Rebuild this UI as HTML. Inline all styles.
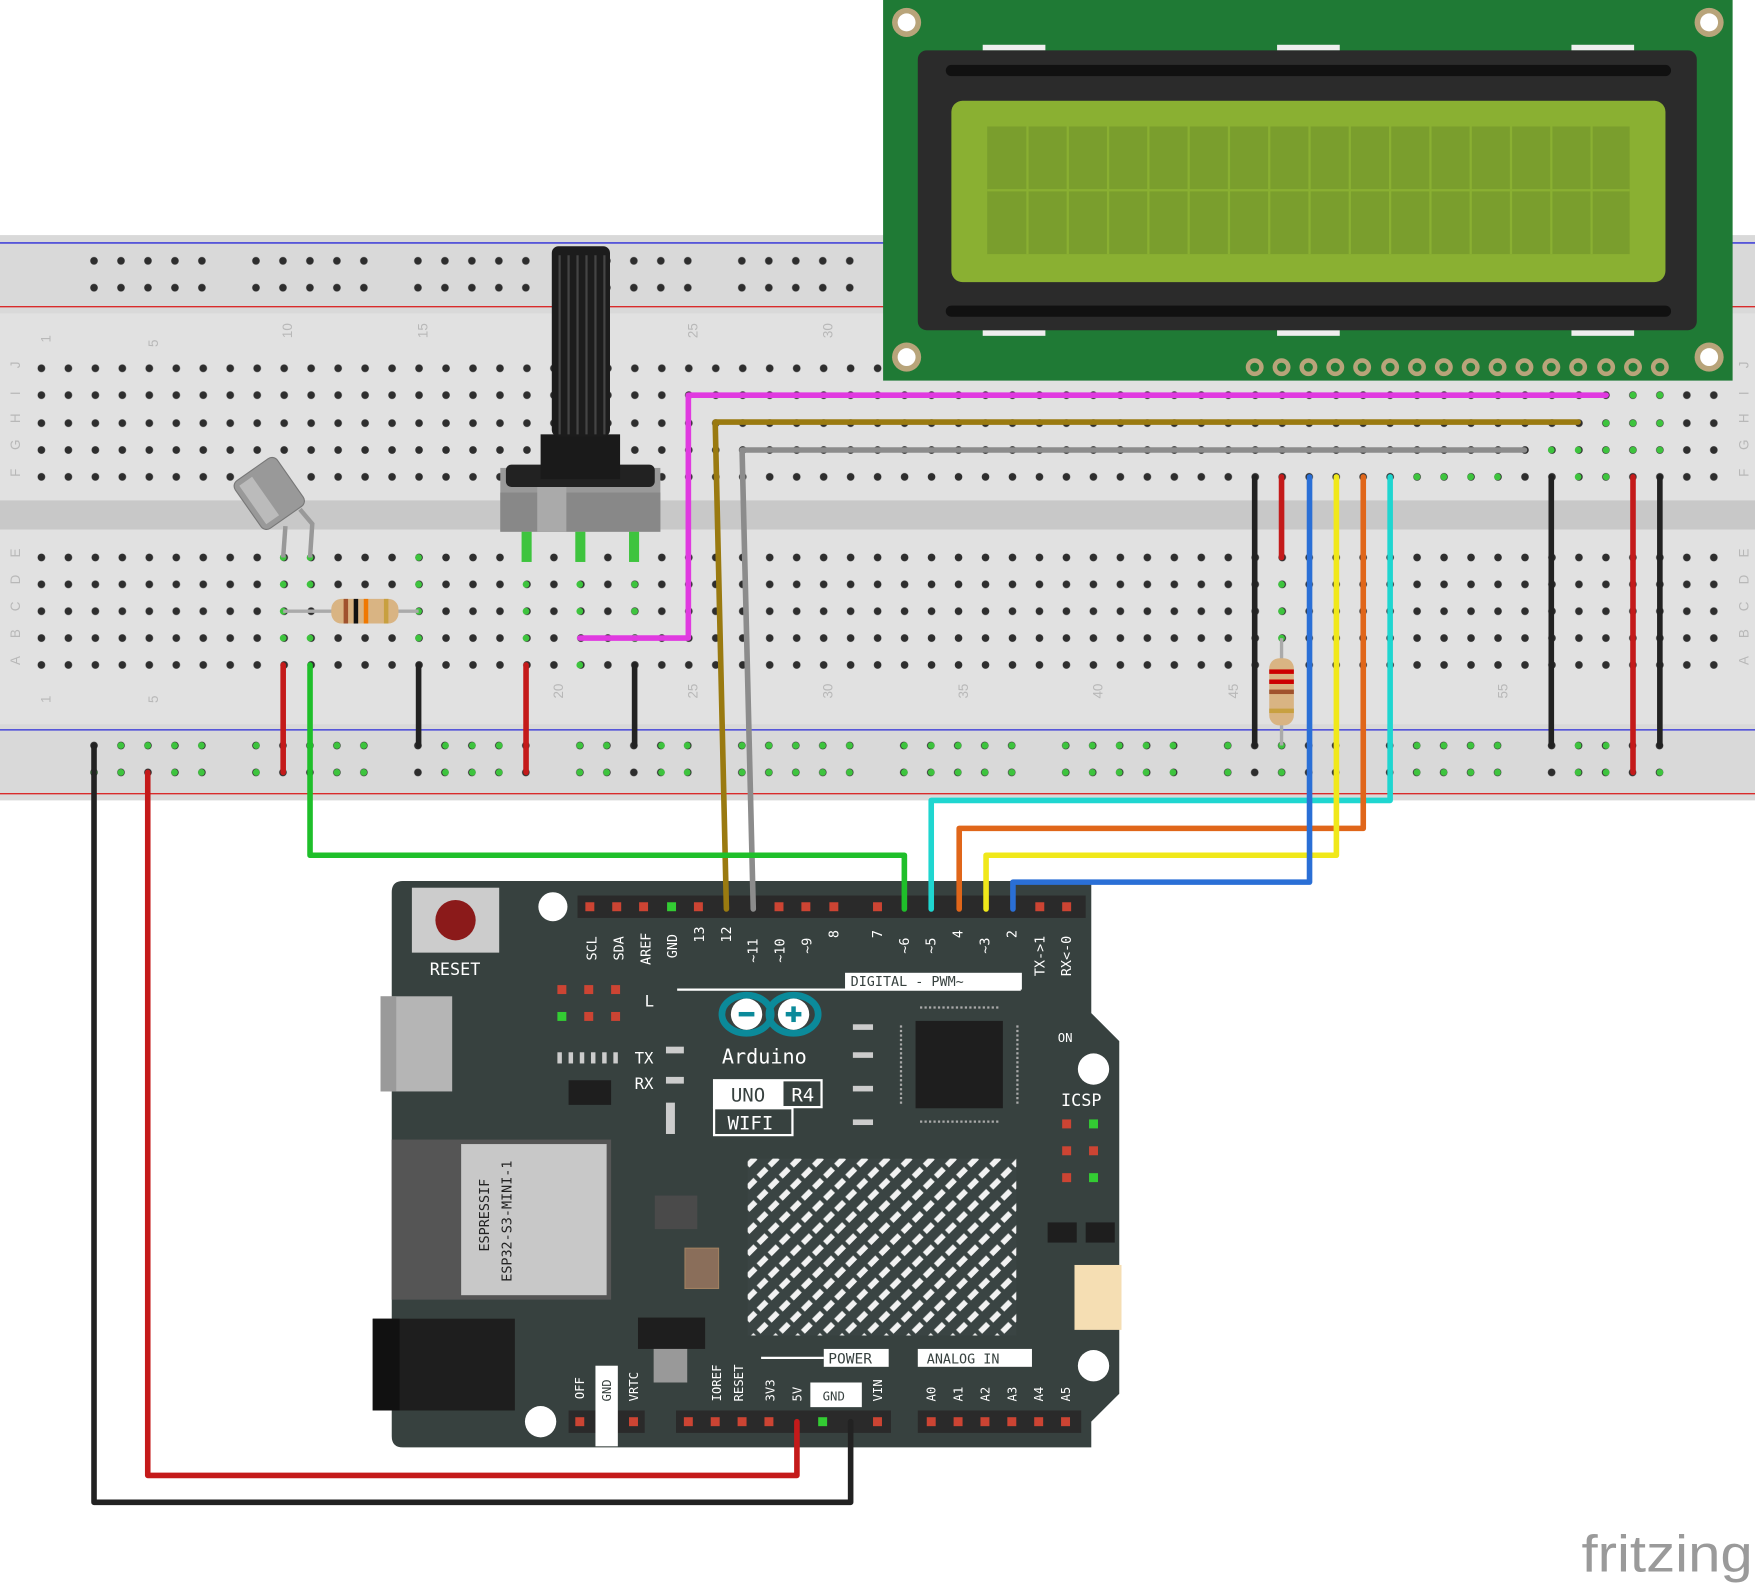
<!DOCTYPE html>
<html><head><meta charset="utf-8"><style>
html,body{margin:0;padding:0;background:#fff;}
svg{display:block;}
</style></head><body>
<svg width="1755" height="1584" viewBox="0 0 1568 1415" preserveAspectRatio="none" xmlns="http://www.w3.org/2000/svg" font-family="DejaVu Sans Mono, Liberation Mono, monospace">
<defs>
<pattern id="h" x="33.4" y="0" width="24.1" height="8" patternUnits="userSpaceOnUse">
<circle cx="3.6" cy="4" r="3.4" fill="#2e2e2e"/>
</pattern>
<pattern id="rh" x="80.4" y="0" width="144.7" height="8" patternUnits="userSpaceOnUse">
<circle cx="3.6" cy="4" r="3.4" fill="#2e2e2e"/><circle cx="27.7" cy="4" r="3.4" fill="#2e2e2e"/><circle cx="51.8" cy="4" r="3.4" fill="#2e2e2e"/><circle cx="75.9" cy="4" r="3.4" fill="#2e2e2e"/><circle cx="100" cy="4" r="3.4" fill="#2e2e2e"/>
</pattern>
<pattern id="hatch" width="14" height="14" patternUnits="userSpaceOnUse" patternTransform="rotate(-45)">
<rect width="14" height="14" fill="#3a4443"/><rect x="2" y="2" width="10" height="5" fill="#f2f2f2"/>
</pattern>
</defs>

<!-- breadboard -->
<rect x="0" y="210" width="1568" height="505" fill="#d9d9d9"/>
<rect x="0" y="280" width="1568" height="367" fill="#e1e1e1"/>
<rect x="0" y="447" width="1568" height="26" fill="#c8c8c8"/>
<line x1="0" y1="217" x2="1568" y2="217" stroke="#2b2bd9" stroke-width="1.2"/>
<line x1="0" y1="274" x2="1568" y2="274" stroke="#d92b2b" stroke-width="1.2"/>
<line x1="0" y1="652" x2="1568" y2="652" stroke="#2b2bd9" stroke-width="1.2"/>
<line x1="0" y1="709" x2="1568" y2="709" stroke="#d92b2b" stroke-width="1.2"/>
<!-- rail holes -->
<rect x="80" y="0" width="1408" height="8" fill="url(#rh)" transform="translate(0,229)"/>
<rect x="80" y="0" width="1408" height="8" fill="url(#rh)" transform="translate(0,253)"/>
<rect x="80" y="0" width="1408" height="8" fill="url(#rh)" transform="translate(0,662)"/>
<rect x="80" y="0" width="1408" height="8" fill="url(#rh)" transform="translate(0,686)"/>
<!-- main holes -->
<rect x="33" y="0" width="1505" height="8" fill="url(#h)" transform="translate(0,325)"/>
<rect x="33" y="0" width="1505" height="8" fill="url(#h)" transform="translate(0,349)"/>
<rect x="33" y="0" width="1505" height="8" fill="url(#h)" transform="translate(0,374)"/>
<rect x="33" y="0" width="1505" height="8" fill="url(#h)" transform="translate(0,398)"/>
<rect x="33" y="0" width="1505" height="8" fill="url(#h)" transform="translate(0,422)"/>
<rect x="33" y="0" width="1505" height="8" fill="url(#h)" transform="translate(0,494)"/>
<rect x="33" y="0" width="1505" height="8" fill="url(#h)" transform="translate(0,518)"/>
<rect x="33" y="0" width="1505" height="8" fill="url(#h)" transform="translate(0,542)"/>
<rect x="33" y="0" width="1505" height="8" fill="url(#h)" transform="translate(0,566)"/>
<rect x="33" y="0" width="1505" height="8" fill="url(#h)" transform="translate(0,590)"/>
<!-- row letters / column numbers -->
<g fill="#b8b8b8" font-size="12" style="font-family:'Liberation Sans',sans-serif">
<text x="14" y="333" transform="rotate(-90 14 329)">J</text>
<text x="14" y="357" transform="rotate(-90 14 353)">I</text>
<text x="14" y="382" transform="rotate(-90 14 378)">H</text>
<text x="14" y="406" transform="rotate(-90 14 402)">G</text>
<text x="14" y="430" transform="rotate(-90 14 426)">F</text>
<text x="14" y="502" transform="rotate(-90 14 498)">E</text>
<text x="14" y="526" transform="rotate(-90 14 522)">D</text>
<text x="14" y="550" transform="rotate(-90 14 546)">C</text>
<text x="14" y="574" transform="rotate(-90 14 570)">B</text>
<text x="14" y="598" transform="rotate(-90 14 594)">A</text>
<text x="1558" y="333" transform="rotate(-90 1558 329)">J</text>
<text x="1558" y="357" transform="rotate(-90 1558 353)">I</text>
<text x="1558" y="382" transform="rotate(-90 1558 378)">H</text>
<text x="1558" y="406" transform="rotate(-90 1558 402)">G</text>
<text x="1558" y="430" transform="rotate(-90 1558 426)">F</text>
<text x="1558" y="502" transform="rotate(-90 1558 498)">E</text>
<text x="1558" y="526" transform="rotate(-90 1558 522)">D</text>
<text x="1558" y="550" transform="rotate(-90 1558 546)">C</text>
<text x="1558" y="574" transform="rotate(-90 1558 570)">B</text>
<text x="1558" y="598" transform="rotate(-90 1558 594)">A</text>
<text x="41" y="310" transform="rotate(-90 41 306)">1</text>
<text x="137" y="314" transform="rotate(-90 137 310)">5</text>
<text x="257" y="306" transform="rotate(-90 257 302)">10</text>
<text x="378" y="306" transform="rotate(-90 378 302)">15</text>
<text x="619" y="306" transform="rotate(-90 619 302)">25</text>
<text x="740" y="306" transform="rotate(-90 740 302)">30</text>
<text x="41" y="632" transform="rotate(-90 41 628)">1</text>
<text x="137" y="632" transform="rotate(-90 137 628)">5</text>
<text x="499" y="628" transform="rotate(-90 499 624)">20</text>
<text x="619" y="628" transform="rotate(-90 619 624)">25</text>
<text x="740" y="628" transform="rotate(-90 740 624)">30</text>
<text x="861" y="628" transform="rotate(-90 861 624)">35</text>
<text x="981" y="628" transform="rotate(-90 981 624)">40</text>
<text x="1102" y="628" transform="rotate(-90 1102 624)">45</text>
<text x="1343" y="628" transform="rotate(-90 1343 624)">55</text>
</g>
<!-- green highlighted holes -->
<g fill="#3ec43e">
<circle cx="253" cy="498" r="3"/><circle cx="253" cy="522" r="3"/><circle cx="253" cy="546" r="3"/><circle cx="253" cy="570" r="3"/>
<circle cx="277" cy="498" r="3"/><circle cx="277" cy="522" r="3"/><circle cx="277" cy="570" r="3"/>
<circle cx="374" cy="498" r="3"/><circle cx="374" cy="522" r="3"/><circle cx="374" cy="546" r="3"/><circle cx="374" cy="570" r="3"/>
<circle cx="470" cy="522" r="3"/><circle cx="470" cy="546" r="3"/><circle cx="470" cy="570" r="3"/>
<circle cx="518" cy="522" r="3"/><circle cx="518" cy="546" r="3"/><circle cx="518" cy="594" r="3"/>
<circle cx="567" cy="522" r="3"/><circle cx="567" cy="546" r="3"/><circle cx="567" cy="570" r="3"/>
<circle cx="1145" cy="522" r="3"/><circle cx="1145" cy="546" r="3"/><circle cx="1145" cy="570" r="3"/>
<circle cx="1266" cy="426" r="3"/><circle cx="1290" cy="426" r="3"/><circle cx="1314" cy="426" r="3"/><circle cx="1338" cy="426" r="3"/>
<circle cx="1410" cy="426" r="3"/><circle cx="1435" cy="426" r="3"/><circle cx="1435" cy="402" r="3"/><circle cx="1459" cy="402" r="3"/><circle cx="1459" cy="378" r="3"/><circle cx="1459" cy="353" r="3"/><circle cx="1483" cy="353" r="3"/><circle cx="1483" cy="378" r="3"/><circle cx="1483" cy="402" r="3"/><circle cx="1386" cy="402" r="3"/><circle cx="1410" cy="402" r="3"/><circle cx="1435" cy="378" r="3"/>
</g>
<g fill="#3ec43e">
<circle cx="84" cy="690" r="3"/><circle cx="108" cy="666" r="3"/><circle cx="108" cy="690" r="3"/><circle cx="132" cy="666" r="3"/><circle cx="156" cy="666" r="3"/><circle cx="156" cy="690" r="3"/><circle cx="180" cy="666" r="3"/><circle cx="180" cy="690" r="3"/>
<circle cx="229" cy="666" r="3"/><circle cx="229" cy="690" r="3"/><circle cx="277" cy="666" r="3"/><circle cx="301" cy="666" r="3"/><circle cx="301" cy="690" r="3"/><circle cx="325" cy="666" r="3"/><circle cx="325" cy="690" r="3"/>
<circle cx="398" cy="666" r="3"/><circle cx="422" cy="666" r="3"/><circle cx="446" cy="666" r="3"/><circle cx="398" cy="690" r="3"/><circle cx="422" cy="690" r="3"/><circle cx="446" cy="690" r="3"/>
<circle cx="518" cy="666" r="3"/><circle cx="542" cy="666" r="3"/><circle cx="591" cy="666" r="3"/><circle cx="614" cy="666" r="3"/><circle cx="518" cy="690" r="3"/><circle cx="542" cy="690" r="3"/><circle cx="591" cy="690" r="3"/><circle cx="614" cy="690" r="3"/>
<circle cx="663" cy="666" r="3"/><circle cx="687" cy="666" r="3"/><circle cx="711" cy="666" r="3"/><circle cx="735" cy="666" r="3"/><circle cx="759" cy="666" r="3"/><circle cx="663" cy="690" r="3"/><circle cx="687" cy="690" r="3"/><circle cx="711" cy="690" r="3"/><circle cx="735" cy="690" r="3"/><circle cx="759" cy="690" r="3"/>
<circle cx="808" cy="666" r="3"/><circle cx="832" cy="666" r="3"/><circle cx="856" cy="666" r="3"/><circle cx="880" cy="666" r="3"/><circle cx="904" cy="666" r="3"/><circle cx="808" cy="690" r="3"/><circle cx="832" cy="690" r="3"/><circle cx="856" cy="690" r="3"/><circle cx="880" cy="690" r="3"/><circle cx="904" cy="690" r="3"/>
<circle cx="952" cy="666" r="3"/><circle cx="976" cy="666" r="3"/><circle cx="1000" cy="666" r="3"/><circle cx="1024" cy="666" r="3"/><circle cx="1048" cy="666" r="3"/><circle cx="952" cy="690" r="3"/><circle cx="976" cy="690" r="3"/><circle cx="1000" cy="690" r="3"/><circle cx="1024" cy="690" r="3"/><circle cx="1048" cy="690" r="3"/>
<circle cx="1097" cy="666" r="3"/><circle cx="1097" cy="690" r="3"/><circle cx="1145" cy="666" r="3"/><circle cx="1145" cy="690" r="3"/>
<circle cx="1266" cy="666" r="3"/><circle cx="1290" cy="666" r="3"/><circle cx="1314" cy="666" r="3"/><circle cx="1338" cy="666" r="3"/><circle cx="1266" cy="690" r="3"/><circle cx="1290" cy="690" r="3"/><circle cx="1314" cy="690" r="3"/><circle cx="1338" cy="690" r="3"/>
<circle cx="1410" cy="666" r="3"/><circle cx="1435" cy="666" r="3"/><circle cx="1410" cy="690" r="3"/><circle cx="1435" cy="690" r="3"/><circle cx="1483" cy="690" r="3"/>
</g>

<!-- LCD -->
<rect x="789" y="0" width="759" height="340" fill="#1f7a35"/>
<circle cx="810" cy="20" r="13" fill="#b8a47a"/><circle cx="810" cy="20" r="8" fill="#fff"/>
<circle cx="1527" cy="20" r="13" fill="#b8a47a"/><circle cx="1527" cy="20" r="8" fill="#fff"/>
<circle cx="810" cy="319" r="13" fill="#b8a47a"/><circle cx="810" cy="319" r="8" fill="#fff"/>
<circle cx="1527" cy="319" r="13" fill="#b8a47a"/><circle cx="1527" cy="319" r="8" fill="#fff"/>
<rect x="878" y="40" width="56" height="5" fill="#eee"/><rect x="1141" y="40" width="56" height="5" fill="#eee"/><rect x="1404" y="40" width="56" height="5" fill="#eee"/>
<rect x="878" y="295" width="56" height="5" fill="#eee"/><rect x="1141" y="295" width="56" height="5" fill="#eee"/><rect x="1404" y="295" width="56" height="5" fill="#eee"/>
<rect x="820" y="45" width="696" height="250" rx="8" fill="#2b2b2b"/>
<rect x="845" y="58" width="648" height="10" rx="5" fill="#111"/>
<rect x="845" y="273" width="648" height="10" rx="5" fill="#111"/>
<rect x="850" y="90" width="638" height="162" rx="10" fill="#8ab032"/>
<rect x="882" y="113" width="574" height="114" fill="#7a9e2d"/>
<g stroke="#8ab032" stroke-width="2">
<line x1="882" y1="170" x2="1456" y2="170"/>
<line x1="918" y1="113" x2="918" y2="227"/><line x1="954" y1="113" x2="954" y2="227"/><line x1="990" y1="113" x2="990" y2="227"/><line x1="1026" y1="113" x2="1026" y2="227"/><line x1="1062" y1="113" x2="1062" y2="227"/><line x1="1098" y1="113" x2="1098" y2="227"/><line x1="1134" y1="113" x2="1134" y2="227"/><line x1="1170" y1="113" x2="1170" y2="227"/><line x1="1206" y1="113" x2="1206" y2="227"/><line x1="1242" y1="113" x2="1242" y2="227"/><line x1="1278" y1="113" x2="1278" y2="227"/><line x1="1314" y1="113" x2="1314" y2="227"/><line x1="1350" y1="113" x2="1350" y2="227"/><line x1="1386" y1="113" x2="1386" y2="227"/><line x1="1422" y1="113" x2="1422" y2="227"/>
</g>
<g fill="#b8a47a">
<circle cx="1121" cy="328" r="8"/><circle cx="1145" cy="328" r="8"/><circle cx="1169" cy="328" r="8"/><circle cx="1193" cy="328" r="8"/><circle cx="1217" cy="328" r="8"/><circle cx="1242" cy="328" r="8"/><circle cx="1266" cy="328" r="8"/><circle cx="1290" cy="328" r="8"/><circle cx="1314" cy="328" r="8"/><circle cx="1338" cy="328" r="8"/><circle cx="1362" cy="328" r="8"/><circle cx="1386" cy="328" r="8"/><circle cx="1410" cy="328" r="8"/><circle cx="1435" cy="328" r="8"/><circle cx="1459" cy="328" r="8"/><circle cx="1483" cy="328" r="8"/>
</g>
<g fill="#1f7a35">
<circle cx="1121" cy="328" r="4"/><circle cx="1145" cy="328" r="4"/><circle cx="1169" cy="328" r="4"/><circle cx="1193" cy="328" r="4"/><circle cx="1217" cy="328" r="4"/><circle cx="1242" cy="328" r="4"/><circle cx="1266" cy="328" r="4"/><circle cx="1290" cy="328" r="4"/><circle cx="1314" cy="328" r="4"/><circle cx="1338" cy="328" r="4"/><circle cx="1362" cy="328" r="4"/><circle cx="1386" cy="328" r="4"/><circle cx="1410" cy="328" r="4"/><circle cx="1435" cy="328" r="4"/><circle cx="1459" cy="328" r="4"/><circle cx="1483" cy="328" r="4"/>
</g>

<!-- potentiometer -->
<rect x="447" y="418" width="143" height="57" fill="#999"/>
<rect x="447" y="440" width="143" height="35" fill="#888"/>
<rect x="480" y="418" width="26" height="57" fill="#aaa"/>
<rect x="452" y="415" width="133" height="20" rx="5" fill="#222"/>
<rect x="483" y="388" width="71" height="40" fill="#1a1a1a"/>
<rect x="493" y="220" width="52" height="170" rx="6" fill="#1c1c1c"/>
<g stroke="#444" stroke-width="2"><line x1="500" y1="228" x2="500" y2="388"/><line x1="508" y1="228" x2="508" y2="388"/><line x1="516" y1="228" x2="516" y2="388"/><line x1="524" y1="228" x2="524" y2="388"/><line x1="532" y1="228" x2="532" y2="388"/><line x1="540" y1="228" x2="540" y2="388"/></g>
<g fill="#3ec43e"><rect x="466" y="475" width="9" height="27"/><rect x="514" y="475" width="9" height="27"/><rect x="562" y="475" width="9" height="27"/></g>

<!-- transistor -->
<g transform="rotate(-35 240 440)">
<rect x="217" y="415" width="46" height="52" rx="6" fill="#999" stroke="#777"/>
<rect x="222" y="420" width="14" height="42" fill="#bbb"/>
</g>
<polyline points="255,470 253,498" stroke="#999" stroke-width="4" fill="none"/>
<polyline points="268,455 279,468 277,498" stroke="#999" stroke-width="4" fill="none"/>

<!-- resistor horizontal -->
<line x1="253" y1="546" x2="374" y2="546" stroke="#aaa" stroke-width="3"/>
<rect x="296" y="535" width="60" height="22" rx="9" fill="#d9b483"/>
<rect x="307" y="535" width="4" height="22" fill="#a0522d"/><rect x="316" y="535" width="4" height="22" fill="#111"/><rect x="325" y="535" width="4" height="22" fill="#f07800"/><rect x="343" y="535" width="4" height="22" fill="#c8a040"/>
<!-- resistor vertical -->
<line x1="1145" y1="570" x2="1145" y2="666" stroke="#aaa" stroke-width="3"/>
<rect x="1134" y="588" width="22" height="60" rx="9" fill="#d9b483"/>
<rect x="1134" y="598" width="22" height="4" fill="#c00"/><rect x="1134" y="607" width="22" height="4" fill="#c00"/><rect x="1134" y="616" width="22" height="4" fill="#a0522d"/><rect x="1134" y="633" width="22" height="4" fill="#c8a040"/>

<!-- Arduino -->
<path d="M360,787 H975 V905 L1000,930 V1245 L975,1270 V1293 H360 Q350,1293 350,1283 V797 Q350,787 360,787Z" fill="#37413f"/>
<circle cx="494" cy="810" r="13" fill="#fff"/><circle cx="977" cy="955" r="14" fill="#fff"/><circle cx="977" cy="1220" r="14" fill="#fff"/><circle cx="483" cy="1270" r="14" fill="#fff"/>
<rect x="368" y="793" width="78" height="58" fill="#ccc"/>
<circle cx="407" cy="822" r="18" fill="#8b1a1a"/>
<text x="384" y="871" font-size="15" fill="#fff">RESET</text>
<rect x="340" y="890" width="64" height="85" fill="#b5b5b5"/><rect x="340" y="890" width="14" height="85" fill="#9a9a9a"/>
<rect x="350" y="1018" width="196" height="143" fill="#555"/>
<rect x="412" y="1022" width="130" height="135" fill="#c8c8c8"/>
<text x="437" y="1118" font-size="12" fill="#222" transform="rotate(-90 437 1118)">ESPRESSIF</text>
<text x="457" y="1145" font-size="12" fill="#222" transform="rotate(-90 457 1145)">ESP32-S3-MINI-1</text>
<rect x="333" y="1178" width="127" height="82" fill="#1e1e1e"/><rect x="333" y="1178" width="24" height="82" fill="#111"/>
<rect x="570" y="1177" width="60" height="28" fill="#1e1e1e"/><rect x="584" y="1205" width="30" height="30" fill="#999"/>
<rect x="612" y="1115" width="30" height="36" fill="#8a6e5a" stroke="#a08060"/>
<rect x="585" y="1068" width="38" height="30" fill="#4a4a4a"/>
<rect x="818" y="912" width="78" height="78" fill="#1e1e1e"/>
<g stroke="#aaa" stroke-width="2"><line x1="822" y1="900" x2="892" y2="900" stroke-dasharray="2,2"/><line x1="822" y1="1002" x2="892" y2="1002" stroke-dasharray="2,2"/><line x1="805" y1="916" x2="805" y2="986" stroke-dasharray="2,2"/><line x1="909" y1="916" x2="909" y2="986" stroke-dasharray="2,2"/></g>
<rect x="508" y="965" width="38" height="22" fill="#1e1e1e"/>
<g fill="#ccc"><rect x="498" y="940" width="4" height="10"/><rect x="508" y="940" width="4" height="10"/><rect x="518" y="940" width="4" height="10"/><rect x="528" y="940" width="4" height="10"/><rect x="538" y="940" width="4" height="10"/><rect x="548" y="940" width="4" height="10"/><rect x="595" y="935" width="16" height="6"/><rect x="595" y="962" width="16" height="6"/><rect x="595" y="985" width="8" height="28"/><rect x="762" y="915" width="18" height="5"/><rect x="762" y="940" width="18" height="5"/><rect x="762" y="970" width="18" height="5"/><rect x="762" y="1000" width="18" height="5"/></g>
<rect x="668" y="1035" width="240" height="158" fill="url(#hatch)"/>
<ellipse cx="667" cy="906" rx="22" ry="17" fill="none" stroke="#0b8a9a" stroke-width="6"/>
<ellipse cx="709" cy="906" rx="22" ry="17" fill="none" stroke="#0b8a9a" stroke-width="6"/>
<circle cx="667" cy="906" r="14" fill="#fff"/><circle cx="709" cy="906" r="14" fill="#fff"/>
<rect x="660" y="904" width="14" height="4" fill="#0b8a9a"/><rect x="702" y="904" width="14" height="4" fill="#0b8a9a"/><rect x="707" y="899" width="4" height="14" fill="#0b8a9a"/>
<text x="645" y="950" font-size="18" fill="#fff">Arduino</text>
<rect x="638" y="965" width="96" height="24" fill="none" stroke="#fff" stroke-width="2"/>
<rect x="638" y="965" width="62" height="24" fill="#fff"/>
<text x="653" y="984" font-size="17" fill="#37413f">UNO</text><text x="707" y="984" font-size="17" fill="#fff">R4</text>
<rect x="638" y="990" width="70" height="24" fill="none" stroke="#fff" stroke-width="2"/>
<text x="650" y="1009" font-size="17" fill="#fff">WIFI</text>
<text x="567" y="950" font-size="14" fill="#fff">TX</text><text x="567" y="973" font-size="14" fill="#fff">RX</text>
<text x="576" y="899" font-size="14" fill="#fff">L</text>
<text x="945" y="931" font-size="11" fill="#fff">ON</text>
<text x="948" y="988" font-size="15" fill="#fff">ICSP</text>
<g fill="#c43"><rect x="949" y="1000" width="8" height="8"/><rect x="949" y="1024" width="8" height="8"/><rect x="973" y="1024" width="8" height="8"/><rect x="949" y="1048" width="8" height="8"/><rect x="498" y="880" width="8" height="8"/><rect x="522" y="880" width="8" height="8"/><rect x="546" y="880" width="8" height="8"/><rect x="522" y="904" width="8" height="8"/><rect x="546" y="904" width="8" height="8"/></g>
<g fill="#3c3"><rect x="973" y="1000" width="8" height="8"/><rect x="973" y="1048" width="8" height="8"/><rect x="498" y="904" width="8" height="8"/></g>
<rect x="936" y="1092" width="26" height="18" fill="#1e1e1e"/><rect x="970" y="1092" width="26" height="18" fill="#1e1e1e"/>
<rect x="960" y="1130" width="42" height="58" fill="#f5deb3"/>
<line x1="605" y1="884" x2="912" y2="884" stroke="#fff" stroke-width="2"/>
<rect x="755" y="869" width="158" height="15" fill="#fff"/>
<text x="760" y="881" font-size="12" fill="#37413f">DIGITAL - PWM~</text>
<rect x="516" y="800" width="454" height="20" fill="#2a2a2a"/>
<g fill="#c43">
<rect x="523" y="806" width="8" height="8"/><rect x="547" y="806" width="8" height="8"/><rect x="571" y="806" width="8" height="8"/><rect x="620" y="806" width="8" height="8"/><rect x="692" y="806" width="8" height="8"/><rect x="716" y="806" width="8" height="8"/><rect x="741" y="806" width="8" height="8"/><rect x="780" y="806" width="8" height="8"/><rect x="925" y="806" width="8" height="8"/><rect x="949" y="806" width="8" height="8"/>
</g>
<rect x="596" y="806" width="8" height="8" fill="#3c3"/>
<g fill="#fff" font-size="12">
<text x="533" y="858" transform="rotate(-90 533 858)">SCL</text>
<text x="557" y="858" transform="rotate(-90 557 858)">SDA</text>
<text x="581" y="862" transform="rotate(-90 581 862)">AREF</text>
<text x="605" y="856" transform="rotate(-90 605 856)">GND</text>
<text x="629" y="842" transform="rotate(-90 629 842)">13</text>
<text x="653" y="842" transform="rotate(-90 653 842)">12</text>
<text x="677" y="860" transform="rotate(-90 677 860)">~11</text>
<text x="701" y="860" transform="rotate(-90 701 860)">~10</text>
<text x="725" y="852" transform="rotate(-90 725 852)">~9</text>
<text x="749" y="838" transform="rotate(-90 749 838)">8</text>
<text x="788" y="838" transform="rotate(-90 788 838)">7</text>
<text x="812" y="852" transform="rotate(-90 812 852)">~6</text>
<text x="836" y="852" transform="rotate(-90 836 852)">~5</text>
<text x="860" y="838" transform="rotate(-90 860 838)">4</text>
<text x="884" y="852" transform="rotate(-90 884 852)">~3</text>
<text x="908" y="838" transform="rotate(-90 908 838)">2</text>
<text x="933" y="872" transform="rotate(-90 933 872)">TX-&gt;1</text>
<text x="957" y="872" transform="rotate(-90 957 872)">RX&lt;-0</text>
</g>
<rect x="604" y="1260" width="192" height="20" fill="#2a2a2a"/>
<rect x="820" y="1260" width="146" height="20" fill="#2a2a2a"/>
<rect x="508" y="1260" width="68" height="20" fill="#2a2a2a"/>
<g fill="#c43"><rect x="611" y="1266" width="8" height="8"/><rect x="635" y="1266" width="8" height="8"/><rect x="659" y="1266" width="8" height="8"/><rect x="683" y="1266" width="8" height="8"/><rect x="780" y="1266" width="8" height="8"/><rect x="828" y="1266" width="8" height="8"/><rect x="852" y="1266" width="8" height="8"/><rect x="876" y="1266" width="8" height="8"/><rect x="900" y="1266" width="8" height="8"/><rect x="924" y="1266" width="8" height="8"/><rect x="948" y="1266" width="8" height="8"/><rect x="514" y="1266" width="8" height="8"/><rect x="562" y="1266" width="8" height="8"/></g>
<g fill="#3c3"><rect x="731" y="1266" width="8" height="8"/><rect x="538" y="1266" width="8" height="8"/></g>
<rect x="736" y="1205" width="58" height="16" fill="#fff"/><text x="740" y="1218" font-size="13" fill="#37413f">POWER</text>
<rect x="820" y="1205" width="102" height="16" fill="#fff"/><text x="828" y="1218" font-size="12" fill="#37413f">ANALOG IN</text>
<line x1="680" y1="1213" x2="736" y2="1213" stroke="#fff" stroke-width="2"/>
<rect x="724" y="1235" width="46" height="22" fill="#fff"/><text x="735" y="1251" font-size="11" fill="#37413f">GND</text>
<rect x="532" y="1220" width="20" height="72" fill="#fff"/>
<g fill="#fff" font-size="11">
<text x="522" y="1250" transform="rotate(-90 522 1250)">OFF</text>
<text x="546" y="1252" transform="rotate(-90 546 1252)" fill="#37413f">GND</text>
<text x="570" y="1252" transform="rotate(-90 570 1252)">VRTC</text>
<text x="644" y="1252" transform="rotate(-90 644 1252)">IOREF</text>
<text x="664" y="1252" transform="rotate(-90 664 1252)">RESET</text>
<text x="692" y="1252" transform="rotate(-90 692 1252)">3V3</text>
<text x="716" y="1252" transform="rotate(-90 716 1252)">5V</text>
<text x="788" y="1252" transform="rotate(-90 788 1252)">VIN</text>
<text x="836" y="1252" transform="rotate(-90 836 1252)">A0</text>
<text x="860" y="1252" transform="rotate(-90 860 1252)">A1</text>
<text x="884" y="1252" transform="rotate(-90 884 1252)">A2</text>
<text x="908" y="1252" transform="rotate(-90 908 1252)">A3</text>
<text x="932" y="1252" transform="rotate(-90 932 1252)">A4</text>
<text x="956" y="1252" transform="rotate(-90 956 1252)">A5</text>
</g>

<!-- wires -->
<g fill="none" stroke-width="5" stroke-linejoin="round" stroke-linecap="round">
<polyline points="518,570 615,570 615,353 1435,353" stroke="#e03ae0"/>
<polyline points="649,812 639,377 1410,377" stroke="#9a7a10"/>
<polyline points="673,812 663,402 1362,402" stroke="#8c8c8c"/>
<polyline points="277,594 277,764 808,764 808,812" stroke="#1fbf2a"/>
<polyline points="1242,426 1242,715 832,715 832,812" stroke="#1fd6d0"/>
<polyline points="1218,426 1218,740 857,740 857,812" stroke="#e0661a"/>
<polyline points="1194,426 1194,764 881,764 881,812" stroke="#f0e81a"/>
<polyline points="1170,426 1170,788 905,788 905,812" stroke="#2a6fd6"/>
<polyline points="1145,426 1145,498" stroke="#c41a1a"/>
<polyline points="1121,426 1121,666" stroke="#222"/>
<polyline points="1386,426 1386,666" stroke="#222"/>
<polyline points="1459,426 1459,690" stroke="#c41a1a"/>
<polyline points="1483,426 1483,666" stroke="#222"/>
<polyline points="253,594 253,690" stroke="#c41a1a"/>
<polyline points="374,594 374,666" stroke="#222"/>
<polyline points="470,594 470,690" stroke="#c41a1a"/>
<polyline points="567,594 567,666" stroke="#222"/>
<polyline points="84,666 84,1342 760,1342 760,1270" stroke="#222"/>
<polyline points="132,690 132,1318 712,1318 712,1270" stroke="#c41a1a"/>
</g>

<text x="1413" y="1404" font-size="46" fill="#9a9a9a" textLength="153" lengthAdjust="spacingAndGlyphs" style="font-family:'Liberation Sans',sans-serif">fritzing</text>
</svg>
</body></html>
